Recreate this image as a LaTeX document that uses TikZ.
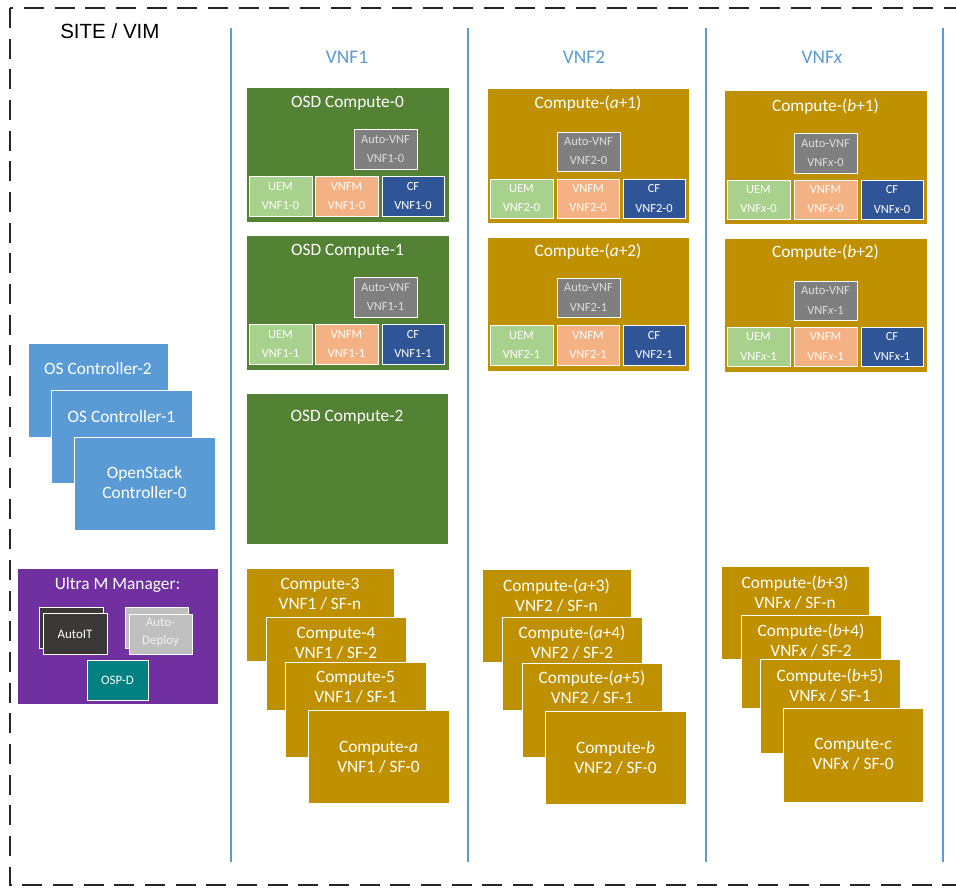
\documentclass[tikz,border=0pt]{standalone}
\usepackage{fontspec}
\setmainfont{Carlito}
\newfontfamily\arialfont{Liberation Sans}
\definecolor{osdgreen}{RGB}{84,130,53}
\definecolor{gold}{RGB}{191,144,0}
\definecolor{ultrapurple}{RGB}{112,48,160}
\definecolor{ctrlblue}{RGB}{91,155,213}
\definecolor{autogray}{RGB}{127,127,127}
\definecolor{uemgreen}{RGB}{169,209,142}
\definecolor{vnfmsalmon}{RGB}{244,177,131}
\definecolor{cfblue}{RGB}{47,85,151}
\definecolor{autoitdark}{RGB}{59,56,56}
\definecolor{deploygray}{RGB}{191,191,191}
\definecolor{ospteal}{RGB}{0,128,128}
\definecolor{lightgraytxt}{RGB}{222,222,222}
\tikzset{
  box/.style={draw=white, line width=0.6pt, inner sep=0pt, outer sep=0pt, rectangle},
  ttl/.style={text=white, font=\fontsize{13}{15}\selectfont, align=center, inner sep=0pt},
  stk/.style={text=white, font=\fontsize{13}{15}\selectfont, align=center, inner sep=0pt},
  sm/.style={text=white, font=\fontsize{9.3}{14.3}\selectfont, align=center, inner sep=0pt},
  smgray/.style={sm, text=lightgraytxt},
  hdr/.style={text=ctrlblue, font=\fontsize{14.5}{17}\selectfont, inner sep=0pt},
  vline/.style={draw=ctrlblue, line width=1.1pt},
  outer/.style={draw=black!85, line width=2.2pt, dash pattern=on 15pt off 8pt},
}
% name x1 y1 x2 y2 style
\newcommand\bx[6]{\node[box,#6, anchor=north west, minimum width={(#4-(#2))*0.75pt}, minimum height={(#5-(#3))*0.75pt}] (#1) at (#2,#3) {};}
% component box with centred text: name x1 y1 x2 y2 fill textstyle text
\newcommand\cbox[8]{\bx{#1}{#2}{#3}{#4}{#5}{fill=#6}\node[#7] (#1t) at (#1.center) {#8};}
\begin{document}
\begin{tikzpicture}[x=0.75pt, y=-0.75pt]
\useasboundingbox (0,0) rectangle (956,888);
\clip (0,0) rectangle (956,888);
\fill[white] (0,0) rectangle (956,888);
% outer dashed frame
\draw[outer] (10,8) rectangle (990,885);
\node[font=\arialfont\fontsize{15.4}{18}\selectfont, anchor=west, inner sep=0pt] (site) at (60,31) {SITE / VIM};
% column separators
\foreach \x/\n in {231/a,468/b,706/c,943/d}{
  \coordinate (top\n) at (\x,28);
  \coordinate (bot\n) at (\x,862);
  \draw[vline] (top\n) -- (bot\n);
}
\node[hdr] (h1) at (347,57) {VNF1};
\node[hdr] (h2) at (584,57) {VNF2};
\node[hdr] (h3) at (822,57) {VNF\textit{x}};

% ---------- VNF1 ----------
\bx{osd0}{246}{87}{449}{222}{fill=osdgreen}
\node[ttl] (osd0t) at (347.5,103) {OSD Compute-0};
\cbox{a10}{354}{129}{417}{169}{autogray}{smgray}{Auto-VNF\\VNF1-0}
\cbox{u10}{249}{176}{312}{216}{uemgreen}{sm}{UEM\\VNF1-0}
\cbox{v10}{315}{176}{378}{216}{vnfmsalmon}{sm}{VNFM\\VNF1-0}
\cbox{c10}{382}{176}{444}{216}{cfblue}{sm}{CF\\VNF1-0}

\bx{osd1}{246}{235}{449}{370}{fill=osdgreen}
\node[ttl] (osd1t) at (347.5,251) {OSD Compute-1};
\cbox{a11}{354}{277}{417}{317}{autogray}{smgray}{Auto-VNF\\VNF1-1}
\cbox{u11}{249}{324}{312}{364}{uemgreen}{sm}{UEM\\VNF1-1}
\cbox{v11}{315}{324}{378}{364}{vnfmsalmon}{sm}{VNFM\\VNF1-1}
\cbox{c11}{382}{324}{444}{364}{cfblue}{sm}{CF\\VNF1-1}

\bx{osd2}{246}{393}{448}{544}{fill=osdgreen}
\node[ttl] (osd2t) at (347,417) {OSD Compute-2};

\bx{s13}{246}{568}{394}{661}{fill=gold}
\node[stk] (s13t) at (320,594.5) {Compute-3\\VNF1 / SF-n};
\bx{s14}{266}{617}{406}{710}{fill=gold}
\node[stk] (s14t) at (336,643) {Compute-4\\VNF1 / SF-2};
\bx{s15}{285}{662}{426}{757}{fill=gold}
\node[stk] (s15t) at (355.5,687.5) {Compute-5\\VNF1 / SF-1};
\bx{s1a}{308}{710}{449}{803}{fill=gold}
\node[stk] (s1at) at (378.5,757.5) {Compute-\textit{a}\\VNF1 / SF-0};

% ---------- VNF2 ----------
\bx{cp21}{487}{88}{689}{223}{fill=gold}
\node[ttl] (cp21t) at (588,104) {Compute-(\textit{a}+1)};
\cbox{a20}{557}{132}{620}{171}{autogray}{smgray}{Auto-VNF\\VNF2-0}
\cbox{u20}{490}{179}{553}{218}{uemgreen}{sm}{UEM\\VNF2-0}
\cbox{v20}{557}{179}{619}{218}{vnfmsalmon}{sm}{VNFM\\VNF2-0}
\cbox{c20}{623}{179}{685}{218}{cfblue}{sm}{CF\\VNF2-0}

\bx{cp22}{487}{237}{689}{371}{fill=gold}
\node[ttl] (cp22t) at (588,252) {Compute-(\textit{a}+2)};
\cbox{a21}{557}{278}{620}{317}{autogray}{smgray}{Auto-VNF\\VNF2-1}
\cbox{u21}{490}{325}{553}{365}{uemgreen}{sm}{UEM\\VNF2-1}
\cbox{v21}{557}{325}{619}{365}{vnfmsalmon}{sm}{VNFM\\VNF2-1}
\cbox{c21}{623}{325}{685}{365}{cfblue}{sm}{CF\\VNF2-1}

\bx{s23}{482}{569}{631}{662}{fill=gold}
\node[stk] (s23t) at (556.5,595.5) {Compute-(\textit{a}+3)\\VNF2 / SF-n};
\bx{s24}{502}{617}{642}{710}{fill=gold}
\node[stk] (s24t) at (572,643) {Compute-(\textit{a}+4)\\VNF2 / SF-2};
\bx{s25}{522}{663}{662}{757}{fill=gold}
\node[stk] (s25t) at (592,687.5) {Compute-(\textit{a}+5)\\VNF2 / SF-1};
\bx{s2b}{545}{711}{686}{804}{fill=gold}
\node[stk] (s2bt) at (615.5,758) {Compute-\textit{b}\\VNF2 / SF-0};

% ---------- VNFx ----------
\bx{cpx1}{724}{90}{927}{224}{fill=gold}
\node[ttl] (cpx1t) at (825.5,107) {Compute-(\textit{b}+1)};
\cbox{ax0}{794}{133}{857}{173}{autogray}{smgray}{Auto-VNF\\VNF\textit{x}-0}
\cbox{ux0}{727}{180}{790}{219}{uemgreen}{sm}{UEM\\VNF\textit{x}-0}
\cbox{vx0}{794}{180}{857}{219}{vnfmsalmon}{sm}{VNFM\\VNF\textit{x}-0}
\cbox{cx0}{861}{180}{923}{219}{cfblue}{sm}{CF\\VNF\textit{x}-0}

\bx{cpx2}{724}{238}{927}{372}{fill=gold}
\node[ttl] (cpx2t) at (825.5,253) {Compute-(\textit{b}+2)};
\cbox{ax1}{794}{281}{857}{320}{autogray}{smgray}{Auto-VNF\\VNF\textit{x}-1}
\cbox{ux1}{727}{327}{790}{366}{uemgreen}{sm}{UEM\\VNF\textit{x}-1}
\cbox{vx1}{794}{327}{857}{366}{vnfmsalmon}{sm}{VNFM\\VNF\textit{x}-1}
\cbox{cx1}{861}{327}{923}{366}{cfblue}{sm}{CF\\VNF\textit{x}-1}

\bx{sx3}{721}{566}{869}{659}{fill=gold}
\node[stk] (sx3t) at (795,592.5) {Compute-(\textit{b}+3)\\VNF\textit{x} / SF-n};
\bx{sx4}{741}{615}{881}{708}{fill=gold}
\node[stk] (sx4t) at (811,641) {Compute-(\textit{b}+4)\\VNF\textit{x} / SF-2};
\bx{sx5}{760}{659}{900}{753}{fill=gold}
\node[stk] (sx5t) at (830,685.5) {Compute-(\textit{b}+5)\\VNF\textit{x} / SF-1};
\bx{sxc}{783}{708}{923}{802}{fill=gold}
\node[stk] (sxct) at (853,754) {Compute-\textit{c}\\VNF\textit{x} / SF-0};

% ---------- Controllers ----------
\bx{ctl2}{28}{343}{168}{437}{fill=ctrlblue}
\node[stk] (ctl2t) at (98,369) {OS Controller-2};
\bx{ctl1}{51}{390}{192}{483}{fill=ctrlblue}
\node[stk] (ctl1t) at (121.5,417) {OS Controller-1};
\bx{ctl0}{74}{437}{215}{530}{fill=ctrlblue}
\node[stk] (ctl0t) at (144.5,483) {OpenStack\\Controller-0};

% ---------- Ultra M Manager ----------
\bx{um}{17}{568}{218}{704}{fill=ultrapurple}
\node[ttl] (umt) at (117.5,585) {Ultra M Manager:};
\bx{ait2}{39}{607}{103}{648}{fill=autoitdark}
\bx{ait1}{43}{613}{107}{654}{fill=autoitdark}
\node[sm, font=\fontsize{9.7}{14}\selectfont] (ait1t) at (75,634) {AutoIT};
\bx{adp2}{125}{607}{188}{648}{fill=deploygray}
\bx{adp1}{129}{614}{192}{654}{fill=deploygray}
\node[sm, text=white!95!black, font=\fontsize{9.7}{14}\selectfont] (adp1t) at (160.5,632.5) {Auto-\\Deploy};
\cbox{ospd}{87}{660}{148}{700}{ospteal}{sm, font=\fontsize{9.7}{14}\selectfont}{OSP-D}
\end{tikzpicture}
\end{document}
